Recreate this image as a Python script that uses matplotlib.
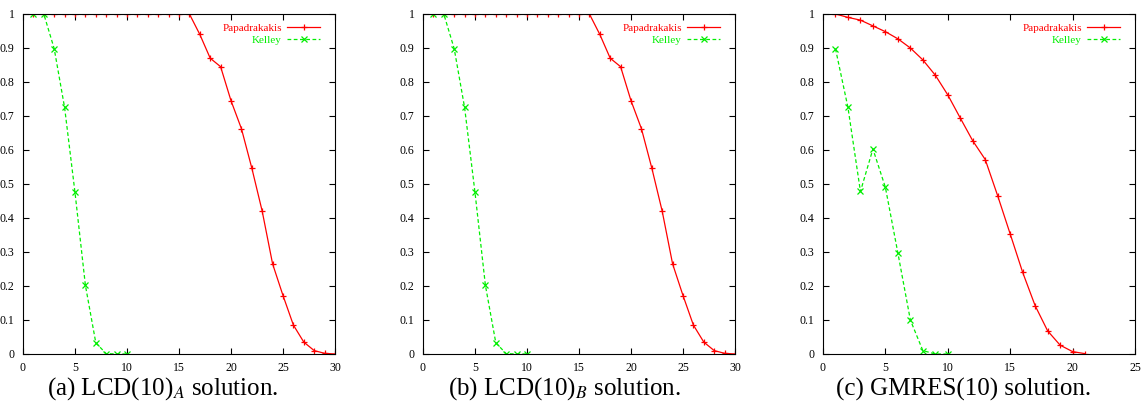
import numpy as np
import matplotlib
matplotlib.use("Agg")
import matplotlib.pyplot as plt

plt.rcParams["font.family"] = ["Liberation Serif", "DejaVu Serif"]
plt.rcParams["mathtext.fontset"] = "stix"

# --- data ---
pap_a = [1.0, 1.0, 1.0, 1.0, 1.0, 1.0, 1.0, 1.0, 1.0, 1.0, 1.0, 1.0, 1.0, 1.0, 1.0,
         1.0, 0.94, 0.87, 0.845, 0.745, 0.663, 0.547, 0.42, 0.265, 0.172,
         0.085, 0.035, 0.01, 0.002, 0.0]
kel_a = [1.0, 1.0, 0.898, 0.725, 0.475, 0.202, 0.033, 0.001, 0.0, 0.0]

pap_b = list(pap_a)
kel_b = list(kel_a)

pap_c = [1.0, 0.99, 0.982, 0.965, 0.948, 0.927, 0.90, 0.865, 0.82, 0.762,
         0.694, 0.627, 0.572, 0.465, 0.353, 0.24, 0.142, 0.068, 0.026, 0.007, 0.001]
kel_c = [0.898, 0.725, 0.478, 0.603, 0.49, 0.297, 0.1, 0.01, 0.0, 0.0]

panels = [
    (pap_a, kel_a, 30, r"(a) LCD(10)$_{A}$ solution."),
    (pap_b, kel_b, 30, r"(b) LCD(10)$_{B}$ solution."),
    (pap_c, kel_c, 25, "(c) GMRES(10) solution."),
]
lefts = [23, 423, 823]
caption_x = [163, 564, 964]

fig = plt.figure(figsize=(11.43, 4.13), dpi=100)
W, H = 1143.0, 413.0
for (pap, kel, xmax, caption), left, cx in zip(panels, lefts, caption_x):
    ax = fig.add_axes([left / W, 1 - 354 / H, 312 / W, 340 / H])
    ax.plot(np.arange(1, len(pap) + 1), pap, "-", color="#ff0000", lw=0.9,
            marker="+", ms=5, mew=0.9, label="Papadrakakis")
    ax.plot(np.arange(1, len(kel) + 1), kel, "--", color="#00ee00", lw=0.9,
            marker="x", ms=4, mew=0.9, label="Kelley", dashes=(3, 2))
    ax.set_xlim(0, xmax)
    ax.set_ylim(0, 1)
    ax.set_xticks(np.arange(0, xmax + 1, 5))
    ax.set_yticks(np.arange(0, 1.01, 0.1))
    ax.set_yticklabels(["0"] + [f"{v:.1f}" for v in np.arange(0.1, 0.95, 0.1)] + ["1"])
    ax.tick_params(direction="in", top=True, right=True, labelsize=8.5, length=4, pad=6)
    for s in ax.spines.values():
        s.set_linewidth(0.8)
    leg = ax.legend(loc="upper right", frameon=False, markerfirst=False, fontsize=8,
                    handlelength=2.9, handletextpad=0.5, labelspacing=0.15,
                    borderaxespad=0.0, bbox_to_anchor=(0.965, 0.985))
    for txt, ln in zip(leg.get_texts(), leg.get_lines()):
        txt.set_color(ln.get_color())
    fig.text(cx / W, 1 - 389 / H, caption, ha="center", va="center", fontsize=18)

fig.savefig("out.png", dpi=100)
